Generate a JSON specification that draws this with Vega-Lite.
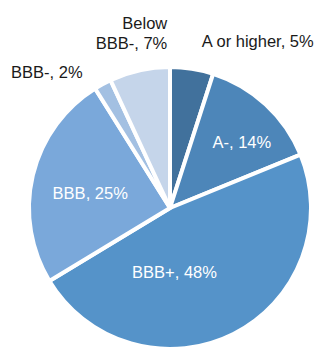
{
  "$schema": "https://vega.github.io/schema/vega-lite/v6.json",
  "autosize": {"type": "none"},
  "width": 304,
  "height": 280,
  "padding": {"left": 18, "top": 68, "right": 0, "bottom": 0},
  "background": "white",
  "config": {"view": {"stroke": null}, "text": {"font": "Liberation Sans", "fontSize": 16.5}},
  "data": {"values": [
    {"category": "A or higher", "value": 5, "rank": 1, "label": "A or higher, 5%"},
    {"category": "A-", "value": 14, "rank": 2, "label": "A-, 14%"},
    {"category": "BBB+", "value": 48, "rank": 3, "label": "BBB+, 48%"},
    {"category": "BBB", "value": 25, "rank": 4, "label": "BBB, 25%"},
    {"category": "BBB-", "value": 2, "rank": 5, "label": "BBB-, 2%"},
    {"category": "Below BBB-", "value": 7, "rank": 6, "label": "Below\nBBB-, 7%"}
  ]},
  "encoding": {
    "theta": {"field": "value", "type": "quantitative", "stack": true},
    "order": {"field": "rank", "type": "quantitative", "sort": "ascending"}
  },
  "layer": [
    {
      "mark": {"type": "arc", "outerRadius": 141, "stroke": "white", "strokeWidth": 4},
      "encoding": {
        "color": {"field": "category", "type": "nominal", "legend": null,
          "scale": {"domain": ["A or higher", "A-", "BBB+", "BBB", "BBB-", "Below BBB-"],
                    "range": ["#41719c", "#4d86b9", "#5593c9", "#7aa8da", "#a3c0e2", "#c5d5ea"]}}
      }
    },
    {
      "mark": {"type": "text", "radius": 160, "dx": 7, "dy": -8, "align": "left", "baseline": "middle", "color": "#1a1a1a"},
      "encoding": {"text": {"condition": {"test": "datum.category === 'A or higher'", "field": "label"}, "value": ""}}
    },
    {
      "mark": {"type": "text", "radius": 97, "dx": 6, "dy": 6, "align": "center", "baseline": "middle", "color": "white"},
      "encoding": {"text": {"condition": {"test": "datum.category === 'A-'", "field": "label"}, "value": ""}}
    },
    {
      "mark": {"type": "text", "radius": 70, "dx": -27, "dy": 2, "align": "center", "baseline": "middle", "color": "white"},
      "encoding": {"text": {"condition": {"test": "datum.category === 'BBB+'", "field": "label"}, "value": ""}}
    },
    {
      "mark": {"type": "text", "radius": 82, "dx": 0, "dy": 5, "align": "center", "baseline": "middle", "color": "white"},
      "encoding": {"text": {"condition": {"test": "datum.category === 'BBB'", "field": "label"}, "value": ""}}
    },
    {
      "mark": {"type": "text", "radius": 160, "dx": -11, "dy": 6, "align": "right", "baseline": "middle", "color": "#1a1a1a"},
      "encoding": {"text": {"condition": {"test": "datum.category === 'BBB-'", "field": "label"}, "value": ""}}
    },
    {
      "mark": {"type": "text", "radius": 170, "dx": 34, "dy": -18, "align": "right", "baseline": "middle", "lineBreak": "\n", "lineHeight": 20, "color": "#1a1a1a"},
      "encoding": {"text": {"condition": {"test": "datum.category === 'Below BBB-'", "field": "label"}, "value": ""}}
    }
  ]
}
